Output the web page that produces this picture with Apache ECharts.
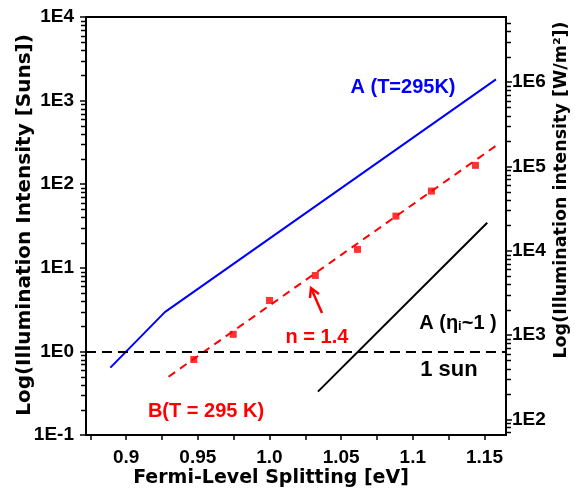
<!DOCTYPE html>
<html>
<head>
<meta charset="UTF-8">
<title></title>
<style>
  html, body { margin: 0; padding: 0; background: #fff; }
  #chart { width: 575px; height: 490px; }
</style>
<script src="https://cdn.jsdelivr.net/npm/echarts@6/dist/echarts.min.js"></script>
</head>
<body>
<div id="chart"></div>
<script>
// curve A (T=295K), illumination in suns
var aX = [0.889, 0.927, 1.158];
var aY = [0.64, 2.95, 1795];
// measured points B (T = 295 K)
var bX = [0.9472, 0.9747, 1.0, 1.032, 1.0614, 1.0882, 1.113, 1.1437];
var bY = [0.80, 1.60, 4.07, 8.1, 16.6, 41.5, 82.7, 168];
// dashed fit through B, n = 1.4
var fitX = [0.9296, 1.1593];
var fitY = [0.498, 299];
// A (eta_i ~ 1)
var idealX = [1.0338, 1.1519];
var idealY = [0.33, 34.6];
// 1 sun reference
var oneSun = 1;

// axis ticks
var xTicks = [0.875, 0.9, 0.925, 0.95, 0.975, 1.0, 1.025, 1.05, 1.075, 1.1, 1.125, 1.15];
var xLabelVals = [0.9, 0.95, 1.0, 1.05, 1.1, 1.15];
var xLabelText = ['0.9', '0.95', '1.0', '1.05', '1.1', '1.15'];
var leftExp = [-1, 0, 1, 2, 3, 4];   // suns decades
var rightExp = [2, 3, 4, 5, 6];      // W/m2 decades

var X_MIN = 0.872, X_MAX = 1.165;
var LEFT_MIN = -1, LEFT_MAX = 4;
var RIGHT_MIN = 1.814, RIGHT_MAX = 6.772;
var GRID = { left: 86, right: 69, top: 17, bottom: 55 };

// y axes are drawn in log10 units
function pairs(xs, ys) {
  return xs.map(function (x, i) { return [x, Math.log10(ys[i])]; });
}
// minor log tick positions (in log10 units)
function minorTicks(from, to, lo, hi) {
  var out = [];
  for (var n = from; n <= to; n++) {
    for (var k = 2; k <= 9; k++) {
      var v = n + Math.log10(k);
      if (v > lo && v < hi) out.push(v);
    }
  }
  return out;
}
var leftMinor = minorTicks(-1, 3, LEFT_MIN, LEFT_MAX);
var rightMinor = minorTicks(1, 6, RIGHT_MIN, RIGHT_MAX);

var tickFont = { color: '#000', fontSize: 19, fontWeight: 'bold', fontFamily: '"Liberation Sans"' };
var nameFont = '"DejaVu Sans"';
var annFont = '"Liberation Sans"';

var labels = [
  {
    type: 'text', x: 25, y: 225, rotation: Math.PI / 2,
    style: { text: 'Log(Illumination Intensity [Suns])', fill: '#000', font: 'bold 20px ' + nameFont, align: 'center', verticalAlign: 'middle' }
  },
  {
    type: 'text', x: 561, y: 190, rotation: Math.PI / 2,
    style: { text: 'Log(Illumination intensity [W/m\u00b2])', fill: '#000', font: 'bold 17.5px ' + nameFont, align: 'center', verticalAlign: 'middle' }
  },
  {
    type: 'text', x: 271, y: 478,
    style: { text: 'Fermi-Level Splitting [eV]', fill: '#000', font: 'bold 19px ' + nameFont, align: 'center', verticalAlign: 'middle' }
  },
  {
    type: 'text', x: 403, y: 87,
    style: { text: 'A (T=295K)', fill: '#0000ff', font: 'bold 20px ' + annFont, align: 'center', verticalAlign: 'middle' }
  },
  {
    type: 'text', x: 317, y: 337,
    style: { text: 'n = 1.4', fill: '#ff0000', font: 'bold 20px ' + annFont, align: 'center', verticalAlign: 'middle' }
  },
  {
    type: 'text', x: 206, y: 411,
    style: { text: 'B(T = 295 K)', fill: '#ff0000', font: 'bold 20px ' + annFont, align: 'center', verticalAlign: 'middle' }
  },
  {
    type: 'text', x: 458, y: 323,
    style: {
      text: 'A (\u03b7{s|i}~1 )', fill: '#000', font: 'bold 20px ' + annFont, align: 'center', verticalAlign: 'middle',
      rich: { s: { fontSize: 13, fontWeight: 'bold', fontFamily: 'Liberation Sans', fill: '#000', verticalAlign: 'bottom' } }
    }
  },
  {
    type: 'text', x: 449, y: 370,
    style: { text: '1 sun', fill: '#000', font: 'bold 22px ' + annFont, align: 'center', verticalAlign: 'middle' }
  },
  {
    type: 'polyline',
    shape: { points: [[322, 313], [311, 288]] },
    style: { stroke: '#ff0000', lineWidth: 2.5, fill: null }
  },
  {
    type: 'polyline',
    shape: { points: [[310, 298], [311, 288], [319, 294]] },
    style: { stroke: '#ff0000', lineWidth: 2.5, fill: null }
  }
];

var chart = echarts.init(document.getElementById('chart'));
chart.setOption({
  animation: false,
  grid: { left: GRID.left, right: GRID.right, top: GRID.top, bottom: GRID.bottom, show: true, borderColor: '#000', borderWidth: 2 },
  xAxis: {
    type: 'value', min: X_MIN, max: X_MAX,
    axisLine: { onZero: false, lineStyle: { color: '#000', width: 2 } },
    axisTick: { show: true, customValues: xTicks, length: 5, lineStyle: { color: '#000', width: 1.5 } },
    axisLabel: Object.assign({
      customValues: xLabelVals, margin: 13,
      formatter: function (v) {
        for (var i = 0; i < xLabelVals.length; i++) {
          if (Math.abs(xLabelVals[i] - v) < 1e-6) return xLabelText[i];
        }
        return '';
      }
    }, tickFont),
    splitLine: { show: false }
  },
  yAxis: [
    {
      type: 'value', min: LEFT_MIN, max: LEFT_MAX, position: 'left',
      axisLine: { show: true, onZero: false, lineStyle: { color: '#000', width: 2 } },
      axisTick: { show: true, customValues: leftExp, length: 6, lineStyle: { color: '#000', width: 1.5 } },
      axisLabel: Object.assign({
        customValues: leftExp, margin: 12,
        formatter: function (v) { return '1E' + Math.round(v); }
      }, tickFont),
      splitLine: { show: false }
    },
    {
      // W/m2 scale, right
      type: 'value', min: RIGHT_MIN, max: RIGHT_MAX, position: 'right',
      axisLine: { show: true, onZero: false, lineStyle: { color: '#000', width: 2 } },
      axisTick: { show: true, customValues: rightExp, length: 6, lineStyle: { color: '#000', width: 1.5 } },
      axisLabel: Object.assign({
        customValues: rightExp, margin: 6,
        formatter: function (v) { return '1E' + Math.round(v); }
      }, tickFont),
      splitLine: { show: false }
    }
  ],
  series: [
    {
      name: 'A (T=295K)', type: 'line', yAxisIndex: 0, symbol: 'none',
      data: pairs(aX, aY),
      lineStyle: { color: '#0000ff', width: 2 }
    },
    {
      name: 'fit', type: 'line', yAxisIndex: 0, symbol: 'none',
      data: pairs(fitX, fitY),
      lineStyle: { color: '#ff0000', width: 2, type: [8, 6] }
    },
    {
      name: 'B(T = 295 K)', type: 'scatter', yAxisIndex: 0,
      symbol: 'rect', symbolSize: 7,
      data: pairs(bX, bY),
      itemStyle: { color: '#ff0000' }
    },
    {
      name: 'A (eta_i~1)', type: 'line', yAxisIndex: 0, symbol: 'none',
      data: pairs(idealX, idealY),
      lineStyle: { color: '#000', width: 2 },
      markLine: {
        silent: true, symbol: 'none', label: { show: false },
        lineStyle: { color: '#000', width: 2, type: [10, 6] },
        data: [{ yAxis: Math.log10(oneSun) }]
      }
    }
  ],
  graphic: labels
});

// minor log ticks, placed with the axes' own scale
// (falls back to the grid box if the conversion gives nothing)
var W = chart.getWidth(), H = chart.getHeight();
var plotH = H - GRID.top - GRID.bottom;
function yPix(axisIndex, v, lo, hi) {
  var p = chart.convertToPixel({ yAxisIndex: axisIndex }, v);
  if (typeof p !== 'number' || !isFinite(p)) {
    p = GRID.top + (hi - v) / (hi - lo) * plotH;
  }
  return p;
}
var xl = GRID.left, xr = W - GRID.right;
var ticks = [];
leftMinor.forEach(function (v) {
  var y = Math.round(yPix(0, v, LEFT_MIN, LEFT_MAX)) + 0.5;
  ticks.push({ type: 'rect', z: 100, shape: { x: xl - 5, y: y - 0.75, width: 5, height: 1.5 }, style: { fill: '#000' } });
});
rightMinor.forEach(function (v) {
  var y = Math.round(yPix(1, v, RIGHT_MIN, RIGHT_MAX)) + 0.5;
  ticks.push({ type: 'rect', z: 100, shape: { x: xr, y: y - 0.75, width: 5, height: 1.5 }, style: { fill: '#000' } });
});
chart.setOption({ graphic: labels.concat(ticks) });
</script>
</body>
</html>
